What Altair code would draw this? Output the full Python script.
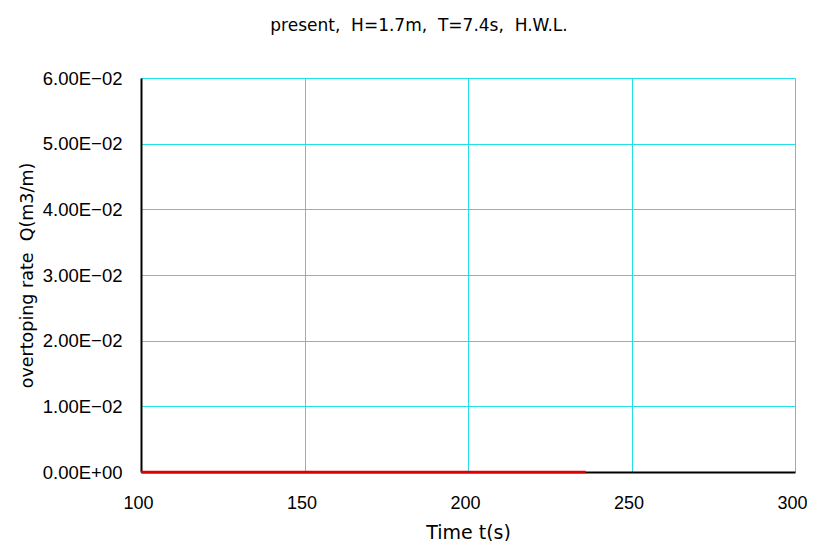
import altair as alt
import pandas as pd

title_text = "present,\u00a0\u00a0H=1.7m,\u00a0\u00a0T=7.4s,\u00a0\u00a0H.W.L."
time_s = [100, 236]
q_rate = [0.0, 0.0]
x_ticks = [100, 150, 200, 250, 300]
y_ticks = [0.0, 0.01, 0.02, 0.03, 0.04, 0.05, 0.06]
y_labels = ["0.00E+00", "1.00E\u221202", "2.00E\u221202", "3.00E\u221202",
            "4.00E\u221202", "5.00E\u221202", "6.00E\u221202"]

df = pd.DataFrame({"t": time_s, "q": q_rate})
LBL = "Liberation Sans"
TTL = "DejaVu Sans"

label_expr = "[" + ",".join("'" + s + "'" for s in y_labels) + "][round(datum.value*100)]"

line = alt.Chart(df).mark_line(color="#e00000", strokeWidth=2.5, clip=False).encode(
    x=alt.X("t:Q", scale=alt.Scale(domain=[100, 300], nice=False),
            axis=alt.Axis(values=x_ticks, title="Time t(s)", format="d",
                          grid=True, gridColor="#22e0e8", gridWidth=1,
                          domainColor="black", domainWidth=2,
                          tickSize=0, labelPadding=22, labelFontSize=18,
                          labelFlush=False, labelOffset=-3,
                          labelFont=LBL, labelColor="black",
                          titleFont=TTL, titleFontSize=19, titleFontWeight="normal",
                          titlePadding=11, titleColor="black", zindex=0)),
    y=alt.Y("q:Q", scale=alt.Scale(domain=[0, 0.06], nice=False),
            axis=alt.Axis(values=y_ticks, labelExpr=label_expr,
                          title="overtoping rate\u00a0\u00a0Q(m3/m)",
                          grid=True, gridColor="#22e0e8", gridWidth=1,
                          domainColor="black", domainWidth=2,
                          tickSize=0, labelPadding=19, labelFontSize=18.5,
                          labelFlush=False,
                          labelFont=LBL, labelColor="black",
                          titleFont=TTL, titleFontSize=17.5, titleFontWeight="normal",
                          titlePadding=6, titleColor="black", zindex=0)),
)

chart = line.properties(
    width=654, height=394,
    title=alt.TitleParams(title_text, font=TTL, fontSize=17, fontWeight="normal",
                          color="black", offset=34, dx=-49),
    autosize=alt.AutoSizeParams(type="none"),
    padding={"left": 133, "top": 70, "right": 12, "bottom": 69},
).configure_view(stroke="black", strokeWidth=1.5).configure(background="white")

chart.save("out.html", embed_options={"renderer": "svg", "actions": False})
